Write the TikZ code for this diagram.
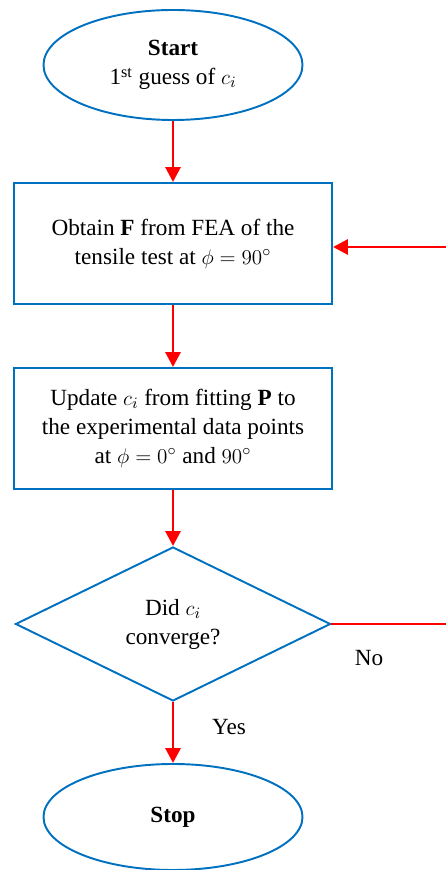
\documentclass[tikz,border=0pt]{standalone}
\usepackage{amsmath}
\usepackage{amssymb}
\usepackage{fontspec}
\setmainfont{Liberation Serif}
\usepackage{tikz}
\usetikzlibrary{shapes.geometric,arrows.meta}

\definecolor{flowblue}{RGB}{0,112,192}
\definecolor{flowred}{RGB}{255,0,0}

\tikzset{
	terminal/.style={ellipse, draw=flowblue, line width=1.1pt, minimum width=5.18cm, minimum height=2.2cm, inner sep=0pt, align=center},
	process/.style={rectangle, draw=flowblue, line width=1.1pt, minimum width=6.36cm, minimum height=2.42cm, inner sep=0pt, align=center},
	decision/.style={diamond, draw=flowblue, line width=1.1pt, minimum width=6.3cm, minimum height=3.08cm, inner sep=0pt, align=center},
	flow/.style={draw=flowred, line width=1.7pt, -{Triangle[length=0.3cm,width=0.3cm]}},
	flowline/.style={draw=flowred, line width=1.7pt}
}

\begin{document}
\begin{tikzpicture}[font=\fontsize{13.2}{16.5}\selectfont]
	%\draw[help lines, thick] (0,0) grid (9,17);
	\useasboundingbox (0,0) rectangle (8.92,17.4);
	\node[terminal] (start) at (3.46,16.1) {\textbf{Start}\\1\textsuperscript{st} guess of $c_i$};
	\node[process] (fea) at (3.46,12.53) {Obtain \textbf{F} from FEA of the\\tensile test at $\phi = 90^\circ$};
	\node[process] (update) at (3.46,8.83) {Update $c_i$ from fitting \textbf{P} to\\the experimental data points\\at $\phi = 0^\circ$ and $90^\circ$};
	\node[decision] (conv) at (3.46,4.92) {Did $c_i$\\converge?};
	\node[terminal, minimum height=2.12cm] (stop) at (3.46,1.06) {\textbf{Stop}};
	\coordinate (noend) at (8.92,4.92);
	\coordinate (back) at (8.92,12.46);
	\draw[flow] (start) -- (fea);
	\draw[flow] (fea) -- (update);
	\draw[flow] (update) -- (conv);
	\draw[flow] (conv) -- (stop);
	\draw[flowline] (conv.east) -- (noend);
	\draw[flow] (back) -- (back -| fea.east);
	\node (no) at (7.38,4.24) {No};
	\node (yes) at (4.58,2.86) {Yes};
\end{tikzpicture}
\end{document}
